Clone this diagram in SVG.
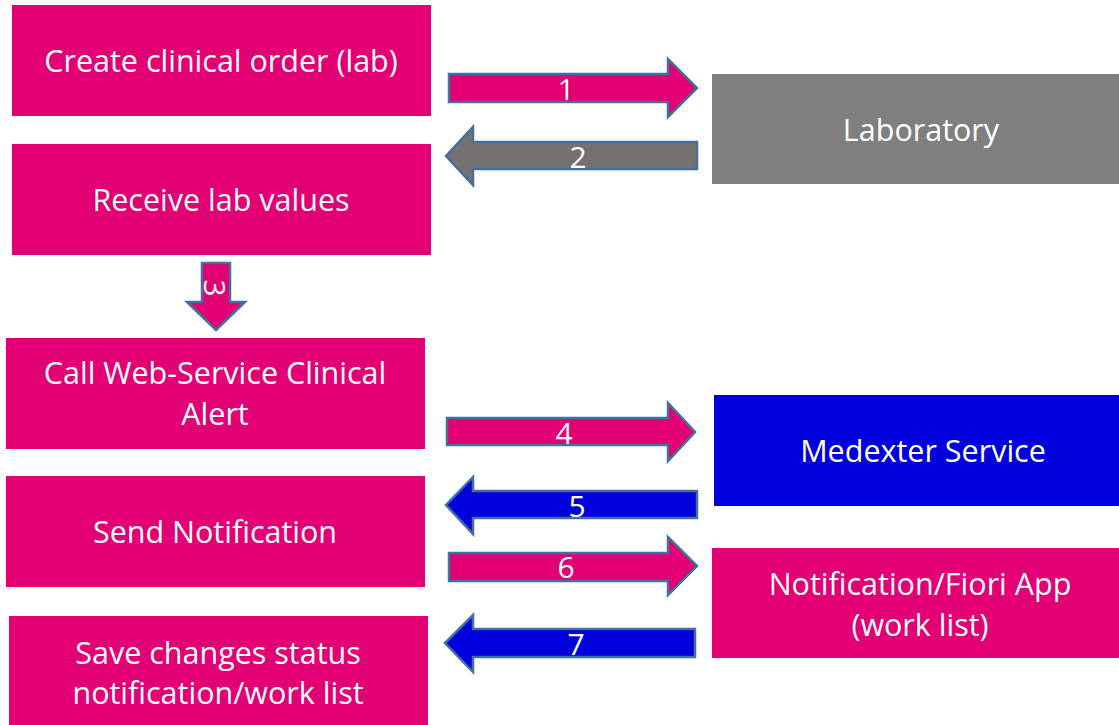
<svg xmlns="http://www.w3.org/2000/svg" width="1119" height="725" viewBox="0 0 1119 725">
<style>
.pk{fill:#E20074}
.gy{fill:#7F7F7F}
.bl{fill:#0000DC}
.t{font-family:"Open Sans","Liberation Sans",sans-serif;font-size:30.5px;fill:#ffffff;text-anchor:middle}
.n{font-family:"Open Sans","Liberation Sans",sans-serif;font-size:30px;fill:#ffffff;text-anchor:middle}
.ar{stroke:#41719C;stroke-width:2.5;stroke-linejoin:miter}
</style>
<rect width="1119" height="725" fill="#ffffff"/>
<g id="create-order"><rect class="pk" x="12" y="5" width="419" height="111"/><text class="t" x="221" y="72">Create clinical order (lab)</text></g>
<g id="receive-values"><rect class="pk" x="12" y="144" width="419" height="111"/><text class="t" x="221" y="211">Receive lab values</text></g>
<g id="laboratory"><rect class="gy" x="712" y="74" width="407" height="110"/><text class="t" x="921" y="141">Laboratory</text></g>
<g id="call-ws"><rect class="pk" x="6" y="338" width="419" height="111"/><text class="t" x="215" y="384">Call Web-Service Clinical</text><text class="t" x="215" y="425">Alert</text></g>
<g id="medexter"><rect class="bl" x="714" y="395" width="405" height="111"/><text class="t" x="923" y="462">Medexter Service</text></g>
<g id="send-notification"><rect class="pk" x="6" y="476" width="419" height="111"/><text class="t" x="215" y="543">Send Notification</text></g>
<g id="fiori"><rect class="pk" x="712" y="548" width="407" height="110"/><text class="t" x="920" y="595">Notification/Fiori App</text><text class="t" x="920" y="636">(work list)</text></g>
<g id="save-status"><rect class="pk" x="9" y="616" width="419" height="109"/><text class="t" x="218" y="664">Save changes status</text><text class="t" x="218" y="704">notification/work list</text></g>
<g id="connectors">
<g id="a1"><path class="ar" fill="#E20074" d="M449,74 H668 V59 L697,88 L668,117 V102 H449 Z"/><text class="n" x="566" y="100">1</text></g>
<g id="a2"><path class="ar" fill="#767171" d="M697,142 H473 V127 L446,156 L473,185 V169 H697 Z"/><text class="n" x="578" y="168">2</text></g>
<g id="a3"><path class="ar" fill="#E20074" d="M202,263 H230 V302 H245 L216,330 L187,302 H202 Z"/><text class="n" transform="translate(204,288) rotate(90)" x="0" y="0">3</text></g>
<g id="a4"><path class="ar" fill="#E20074" d="M447,418 H668 V403 L695,432 L668,461 V445 H447 Z"/><text class="n" x="564" y="444">4</text></g>
<g id="a5"><path class="ar" fill="#0000DC" d="M697,491 H473 V477 L446,505 L473,534 V518 H697 Z"/><text class="n" x="577" y="517">5</text></g>
<g id="a6"><path class="ar" fill="#E20074" d="M449,553 H668 V537 L697,566 L668,595 V581 H449 Z"/><text class="n" x="566" y="578">6</text></g>
<g id="a7"><path class="ar" fill="#0000DC" d="M695,629 H473 V615 L445,643 L473,672 V657 H695 Z"/><text class="n" x="576" y="655">7</text></g>
</g>
</svg>
